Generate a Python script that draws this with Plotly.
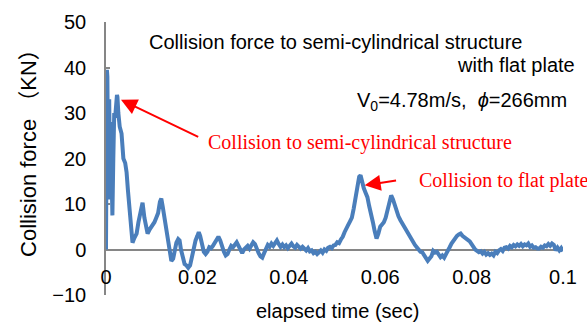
import plotly.graph_objects as go

# elapsed time (sec)
t_sec = [
    0, 0.0001, 0.0002, 0.0003, 0.0004, 0.0005, 0.0006, 0.0007, 0.0008, 0.0009,
    0.001, 0.0011, 0.0012, 0.0013, 0.0014, 0.0016, 0.0018, 0.002, 0.0022, 0.0024,
    0.0025, 0.0027, 0.003, 0.0034, 0.0036, 0.0038, 0.0042, 0.0045, 0.0048, 0.0051,
    0.0055, 0.0058, 0.0062, 0.0067, 0.0071, 0.0076, 0.008, 0.0084, 0.0088, 0.0091,
    0.0096, 0.01, 0.0106, 0.011, 0.0114, 0.0118, 0.0121, 0.0124, 0.0128, 0.0132,
    0.0136, 0.0139, 0.0143, 0.0147, 0.015, 0.0154, 0.0158, 0.0161, 0.0164, 0.0168,
    0.0172, 0.0176, 0.018, 0.0184, 0.0188, 0.0192, 0.0196, 0.02, 0.0203, 0.0206,
    0.021, 0.0214, 0.0218, 0.0222, 0.0226, 0.023, 0.0234, 0.0238, 0.0242, 0.0246,
    0.025, 0.0254, 0.0258, 0.0262, 0.0266, 0.027, 0.0274, 0.0278, 0.0282, 0.0286,
    0.029, 0.0294, 0.0298, 0.0302, 0.0306, 0.031, 0.0314, 0.0318, 0.0322, 0.0326,
    0.033, 0.0334, 0.0338, 0.0342, 0.0346, 0.035, 0.0354, 0.0358, 0.0362, 0.0366,
    0.037, 0.0374, 0.0378, 0.0382, 0.0386, 0.039, 0.0394, 0.0398, 0.0402, 0.0406,
    0.041, 0.0414, 0.0418, 0.0422, 0.0426, 0.043, 0.0434, 0.0438, 0.0442, 0.0446,
    0.045, 0.0454, 0.0458, 0.0462, 0.0466, 0.047, 0.0474, 0.0478, 0.0482, 0.0486,
    0.049, 0.0494, 0.0498, 0.0502, 0.0506, 0.051, 0.0514, 0.0518, 0.0522, 0.0526,
    0.053, 0.0534, 0.0538, 0.0542, 0.0546, 0.055, 0.0554, 0.0557, 0.056, 0.0564,
    0.0568, 0.0572, 0.0576, 0.058, 0.0584, 0.0588, 0.0592, 0.0596, 0.06, 0.0604,
    0.0608, 0.0612, 0.0616, 0.062, 0.0624, 0.0628, 0.0632, 0.0636, 0.064, 0.0644,
    0.0648, 0.0652, 0.0656, 0.066, 0.0664, 0.0668, 0.0672, 0.0676, 0.068, 0.0684,
    0.0688, 0.0692, 0.0696, 0.07, 0.0704, 0.0708, 0.0712, 0.0716, 0.072, 0.0724,
    0.0728, 0.0732, 0.0736, 0.074, 0.0744, 0.0748, 0.0752, 0.0756, 0.076, 0.0764,
    0.0768, 0.0772, 0.0776, 0.078, 0.0784, 0.0788, 0.0792, 0.0796, 0.08, 0.0804,
    0.0808, 0.0812, 0.0816, 0.082, 0.0824, 0.0828, 0.0832, 0.0836, 0.084, 0.0844,
    0.0848, 0.0852, 0.0856, 0.086, 0.0864, 0.0868, 0.0872, 0.0876, 0.088, 0.0884,
    0.0888, 0.0892, 0.0896, 0.09, 0.0904, 0.0908, 0.0912, 0.0916, 0.092, 0.0924,
    0.0928, 0.0932, 0.0936, 0.094, 0.0944, 0.0948, 0.0952, 0.0956, 0.096, 0.0964,
    0.0968, 0.0972, 0.0976, 0.098, 0.0984, 0.0988, 0.0992, 0.0996, 0.1,
]

# collision force (kN)
force_kn = [
    0, 15, 39.5, 38, 25, 12, 20, 33, 17, 11,
    28, 22, 14, 8, 7.5, 20, 30, 29, 32, 34,
    33.5, 30, 27, 25.5, 22, 20, 19, 17, 13, 10,
    5, 1.5, 2.5, 3.5, 6, 9, 10.3, 7, 5, 3.5,
    4.5, 5, 6, 7, 8, 10.5, 11.2, 9.5, 7, 4,
    1, -0.5, -2.5, -2, 0, 1.5, 2.3, 2, 0, -2,
    -3.2, -3.5, -4, -3.5, -1.5, 0.5, 2, 3, 3.8, 3,
    1, -0.5, -1, -0.5, 0.5, 0.3, 0.8, 1.5, 2.5, 2.8,
    2, 0.5, -0.5, -1.3, -1, 0, 0.8, 0.5, 1.2, 1.6,
    0.8, -0.3, -0.8, 0, 0.3, 0.8, 0.2, 1, 1.6, 1.2,
    0, -0.8, -1.5, -1.8, -0.8, 0.3, 1, 0.6, 1.3, 0.8,
    1.5, 2, 1.2, 0.6, 1.1, 0.5, 0.9, 0.3, 0.8, 1.3,
    0.7, 0.4, 1, 0.6, 0.2, 0.6, 0.1, -0.2, 0.3, -0.4,
    -0.2, -0.8, -0.5, -1, -0.6, -0.2, -0.7, 0, -0.3, 0.4,
    0.6, 0.3, 0.9, 1, 1.6, 1.4, 2.2, 2.8, 3.8, 4.8,
    5.4, 6.2, 7, 9, 11.5, 14, 16, 16.3, 15, 13.5,
    12.5, 11.5, 9.5, 8, 6, 4, 2.4, 3.5, 5, 5.5,
    6, 7, 8.5, 10.5, 11.9, 11, 9.5, 8, 7.3, 6.5,
    5.8, 5, 4.5, 3.5, 3, 2.4, 1.8, 1, 0.5, 0,
    -0.5, -0.6, -1.2, -2, -2.5, -2, -1.5, -0.3, -0.7, -0.5,
    -1.2, -1.7, -1.3, -1.8, -1, 0, 0.5, 1.3, 2, 2.5,
    3, 3.3, 3.5, 3, 2.7, 2.4, 2, 1.8, 1.2, 0.5,
    0, -0.3, -0.6, -0.4, -0.9, -0.5, -1.1, -0.8, -1.2, -0.9,
    -1.3, -0.5, -0.8, -0.2, 0.1, -0.3, 0.4, 0.5, 0.2, 0.8,
    0.5, 1, 0.7, 1.1, 0.8, 1.2, 0.7, 1.1, 0.9, 1.3,
    0.6, 0.9, 0.4, 0.5, 0.2, 0.2, 0.6, 0.4, 0.9, 0.7,
    1.2, 0.8, 1.3, 1, -0.2, 0.4, -0.2, 0.3, -0.4,
]

x_ticks = [0, 0.02, 0.04, 0.06, 0.08, 0.1]
x_tick_labels = ["0", "0.02", "0.04", "0.06", "0.08", "0.1"]
y_ticks = [-10, 0, 10, 20, 30, 40, 50]

SANS = "Liberation Sans, Arial, Noto Sans CJK JP, sans-serif"
SERIF = "Liberation Serif, Times New Roman, serif"
AXIS_GRAY = "#868686"
LINE_BLUE = "#4a7ebb"

fig = go.Figure()
fig.add_trace(go.Scatter(
    x=t_sec, y=force_kn, mode="lines",
    line=dict(color=LINE_BLUE, width=4),
    showlegend=False, hoverinfo="skip",
))

annotations = [
    # arrows
    dict(x=0.00328, y=32.9, ax=0.0205, ay=24.6, xref="x", yref="y",
         axref="x", ayref="y", text="", showarrow=True, arrowhead=2,
         arrowsize=1.6, arrowwidth=2, arrowcolor="#ff0000"),
    dict(x=0.0566, y=14.1, ax=0.0638, ay=15.2, xref="x", yref="y",
         axref="x", ayref="y", text="", showarrow=True, arrowhead=2,
         arrowsize=1.6, arrowwidth=2, arrowcolor="#ff0000"),
    # black texts
    dict(x=0.0897, y=0.9267, xref="paper", yref="paper", xanchor="left", yanchor="middle",
         text="Collision force to semi-cylindrical structure", showarrow=False,
         font=dict(family=SANS, size=20, color="#000000")),
    dict(x=1.03, y=0.8425, xref="paper", yref="paper", xanchor="right", yanchor="middle",
         text="with flat plate", showarrow=False,
         font=dict(family=SANS, size=20, color="#000000")),
    dict(x=1.0131, y=0.707, xref="paper", yref="paper", xanchor="right", yanchor="middle",
         text="V<sub>0</sub>=4.78m/s,  <i>ϕ</i>=266mm", showarrow=False,
         font=dict(family=SANS, size=20, color="#000000")),
    # red texts
    dict(x=0.2188, y=0.5604, xref="paper", yref="paper", xanchor="left", yanchor="middle",
         text="Collision to semi-cylindrical structure", showarrow=False,
         font=dict(family=SERIF, size=20, color="#ff0000")),
    dict(x=0.6805, y=0.4212, xref="paper", yref="paper", xanchor="left", yanchor="middle",
         text="Collision to flat plate", showarrow=False,
         font=dict(family=SERIF, size=20, color="#ff0000")),
    # axis titles
    dict(x=0.5055, y=-0.0586, xref="paper", yref="paper", xanchor="center", yanchor="middle",
         text="elapsed time (sec)", showarrow=False,
         font=dict(family=SANS, size=20, color="#000000")),
    dict(x=-0.1707, y=0.5421, xref="paper", yref="paper", xanchor="center", yanchor="middle",
         text="Collision force （KN）", textangle=-90, showarrow=False,
         font=dict(family=SANS, size=22, color="#000000")),
]

fig.update_layout(
    width=587, height=322,
    margin=dict(l=106, r=24, t=22, b=27, pad=0, autoexpand=False),
    paper_bgcolor="white", plot_bgcolor="white",
    font=dict(family=SANS, size=20, color="#000000"),
    xaxis=dict(
        range=[0, 0.1], tickvals=x_ticks, ticktext=x_tick_labels,
        showgrid=False, zeroline=False, showline=True, linecolor=AXIS_GRAY,
        linewidth=1.5, ticks="", anchor="free", position=10 / 60,
        layer="below traces", ticklabelstandoff=10, automargin=False,
        tickfont=dict(family=SANS, size=20, color="#000000"),
    ),
    yaxis=dict(
        range=[-10, 50], tickvals=y_ticks,
        showgrid=False, zeroline=False, showline=True, linecolor=AXIS_GRAY,
        linewidth=1.5, ticks="inside", ticklen=4, tickcolor=AXIS_GRAY, tickwidth=1.5,
        layer="below traces", ticklabelstandoff=14, automargin=False,
        tickfont=dict(family=SANS, size=20, color="#000000"),
    ),
    annotations=annotations,
)

fig.write_html(
    "out.html",
    config={"displayModeBar": False},
    post_script="document.body.style.margin='0';document.body.style.padding='0';"
                "document.body.style.overflow='hidden';",
)
